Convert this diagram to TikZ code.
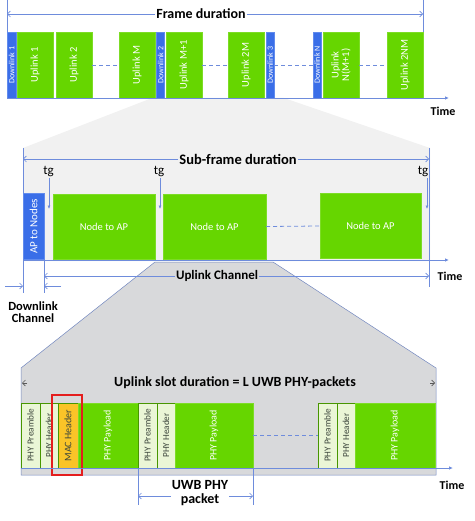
\documentclass[tikz,border=0pt]{standalone}
\usepackage{fontspec}
\setmainfont{Carlito}
\usetikzlibrary{arrows.meta}
\definecolor{grn}{RGB}{102,214,0}
\definecolor{lgrn}{RGB}{234,246,214}
\definecolor{blu}{RGB}{58,110,232}
\definecolor{lnc}{RGB}{110,140,220}
\definecolor{lgray}{RGB}{241,241,241}
\definecolor{dgray}{RGB}{216,217,219}
\definecolor{macc}{RGB}{250,196,40}
\definecolor{redb}{RGB}{228,30,30}
\definecolor{dtxt}{RGB}{60,70,60}
\newcommand\fs[1]{\fontsize{#1}{#1}\selectfont}
\tikzset{
  blk/.style={rotate=90, inner sep=0pt, align=center, text=white, font=\fs{10.5}},
  gblk/.style={blk, fill=grn, draw=grn!85!white},
  hblk/.style={inner sep=0pt, align=center, text=white, font=\fs{10.5}, fill=grn, draw=grn!85!white},
  bblk/.style={blk, fill=blu, draw=blu!80!white},
  pblk/.style={blk, fill=lgrn, draw=grn!70!black, line width=0.4pt, text=dtxt, font=\fs{9.2}},
  mblk/.style={blk, fill=macc, draw=grn!70!black, line width=0.4pt, text=dtxt, font=\fs{10}},
  lab/.style={font=\bfseries\fs{14}, inner sep=1pt},
  tlab/.style={font=\bfseries\fs{12}, inner sep=0pt},
  vln/.style={draw=lnc, line width=0.6pt},
  dim/.style={draw=lnc, line width=0.6pt, -{Straight Barb[length=3pt,width=6pt]}},
  axis/.style={draw=lnc, line width=0.8pt, -{Latex[length=4pt,width=3.5pt]}},
  dsh/.style={draw=lnc, line width=0.8pt, dash pattern=on 4pt off 3pt},
  tgar/.style={draw=lnc, line width=0.6pt, -{Latex[length=3.5pt,width=3pt]}}
}
\begin{document}
\begin{tikzpicture}[x=1pt,y=-1pt]
\useasboundingbox (0,0) rectangle (474,521);
% backgrounds
\fill[lgray] (152,98) -- (284,98) -- (430,148) -- (430,261) -- (23,261) -- (23,148) -- cycle;
\filldraw[fill=dgray, draw=lnc!70!gray, line width=0.5pt] (155,262) -- (273,262) -- (436,368) -- (436,475) -- (21,475) -- (21,368) -- cycle;

% ---------- top panel ----------
\coordinate (tl0) at (7,0); \coordinate (tl1) at (7,98);
\coordinate (tr0) at (423,0); \coordinate (tr1) at (423,98);
\draw[vln] (tl0) -- (tl1);
\draw[vln] (tr0) -- (tr1);
\node[lab] (fd) at (201,14) {Frame duration};
\coordinate (fdl) at (7,14); \coordinate (fdr) at (423,14);
\draw[dim] (fd.west) -- (fdl);
\draw[dim] (fd.east) -- (fdr);

\node[bblk, minimum width=66, minimum height=9, font=\fs{8}] (dl1) at (11.5,65) {Downlink 1};
\node[gblk, minimum width=66, minimum height=36] (u1) at (35,65) {Uplink 1};
\node[gblk, minimum width=66, minimum height=36] (u2) at (74,65) {Uplink 2};
\node[gblk, minimum width=66, minimum height=36] (uM) at (137,65) {Uplink M};
\node[bblk, minimum width=66, minimum height=8, font=\fs{8}] (dl2) at (160.5,65) {Downlink 2};
\node[gblk, minimum width=66, minimum height=36] (uM1) at (184,65) {Uplink M+1};
\node[gblk, minimum width=66, minimum height=36] (u2M) at (246,65) {Uplink 2M};
\node[bblk, minimum width=66, minimum height=8, font=\fs{8}] (dl3) at (270,65) {Downlink 3};
\node[bblk, minimum width=66, minimum height=8, font=\fs{8}] (dlN) at (317,65) {Downlink N};
\node[gblk, minimum width=66, minimum height=36] (uN) at (341,65) {Uplink\\N(M+1)};
\node[gblk, minimum width=66, minimum height=36] (u2NM) at (405,65) {Uplink 2NM};
\draw[dsh] (u2.south) -- (uM.north);
\draw[dsh] (uM1.south) -- (u2M.north);
\draw[dsh] (dl3.south) -- (dlN.north);
\draw[dsh] (uN.south) -- (u2NM.north);
\coordinate (ta0) at (7,98); \coordinate (ta1) at (449,98);
\draw[axis] (ta0) -- (ta1);
\node[tlab] (time1) at (443,111) {Time};

% ---------- middle panel ----------
\coordinate (ml0) at (23,148); \coordinate (ml1) at (23,293);
\coordinate (mr0) at (429,148); \coordinate (mr1) at (429,287);
\coordinate (mc0) at (44,259); \coordinate (mc1) at (44,293);
\draw[vln] (ml0) -- (ml1);
\draw[vln] (mr0) -- (mr1);
\draw[vln] (mc0) -- (mc1);
\node[lab, font=\bfseries\fs{14.5}] (sfd) at (238,159) {Sub-frame duration};
\coordinate (sfl) at (23,159); \coordinate (sfr) at (429,159);
\draw[dim] (sfd.west) -- (sfl);
\draw[dim] (sfd.east) -- (sfr);

\node[font=\fs{13}, inner sep=0pt] (tg1) at (48.5,172) {tg};
\node[font=\fs{13}, inner sep=0pt] (tg2) at (159,172) {tg};
\node[font=\fs{13}, inner sep=0pt] (tg3) at (423,172) {tg};
\coordinate (tga1) at (49,209); \coordinate (tga2) at (160,209); \coordinate (tga3) at (427,209);
\draw[tgar] (49,178) -- (tga1);
\draw[tgar] (160,178) -- (tga2);
\draw[tgar] (427,178) -- (tga3);

\node[bblk, minimum width=66, minimum height=21, font=\fs{11}] (ap) at (33.5,226.5) {AP to Nodes};
\node[hblk, minimum height=65, minimum width=102] (n1) at (104,226.5) {Node to AP};
\node[hblk, minimum height=65, minimum width=103] (n2) at (214.5,226.5) {Node to AP};
\node[hblk, minimum height=65, minimum width=101] (n3) at (370.5,226) {Node to AP};
\draw[dsh] (n2.east) -- (n3.west);
\coordinate (ma0) at (23,260); \coordinate (ma1) at (449,260);
\draw[axis] (ma0) -- (ma1);
\node[tlab] (time2) at (450,276) {Time};

\node[lab, font=\bfseries\fs{13}] (uc) at (217,276) {Uplink Channel};
\coordinate (ucl) at (44,276); \coordinate (ucr) at (429,276);
\draw[dim] (uc.west) -- (ucl);
\draw[dim] (uc.east) -- (ucr);

\coordinate (dca) at (5,286); \coordinate (dcb) at (23,286);
\coordinate (dcc) at (61,286); \coordinate (dcd) at (44,286);
\draw[dim] (dca) -- (dcb);
\draw[dim] (dcc) -- (dcd);
\node[lab, font=\bfseries\fs{12.5}, align=center] (dc) at (33,312) {Downlink\\Channel};

% ---------- bottom panel ----------
\node[lab] (usd) at (235,383) {Uplink slot duration = L UWB PHY-packets};
\coordinate (usl) at (22,383); \coordinate (usr) at (435,383);
\draw[dim, draw=gray!70!black] (27,383) -- (usl);
\draw[dim, draw=gray!70!black] (430,383) -- (usr);

\node[pblk, minimum width=65, minimum height=19] (pre1) at (30.5,435.5) {PHY Preamble};
\node[pblk, minimum width=65, minimum height=18] (hdr1) at (49,435.5) {PHY Header};
\node[mblk, minimum width=65, minimum height=20] (mac) at (68,435.5) {MAC Header};
\node[gblk, minimum width=65, minimum height=60, font=\fs{10}] (pay1) at (108,435.5) {PHY Payload};
\node[pblk, minimum width=65, minimum height=19] (pre2) at (147.5,435.5) {PHY Preamble};
\node[pblk, minimum width=65, minimum height=18] (hdr2) at (166,435.5) {PHY Header};
\node[gblk, minimum width=65, minimum height=78, font=\fs{10}] (pay2) at (214,435.5) {PHY Payload};
\node[pblk, minimum width=65, minimum height=19] (pre3) at (327.5,435.5) {PHY Preamble};
\node[pblk, minimum width=65, minimum height=18] (hdr3) at (346,435.5) {PHY Header};
\node[gblk, minimum width=65, minimum height=80, font=\fs{10}] (pay3) at (395,435.5) {PHY Payload};
\draw[dsh] (pay2.south) -- (pre3.north);
\draw[redb, line width=2.2pt] (52,395) rectangle (82,475);
\coordinate (ba0) at (21,468); \coordinate (ba1) at (453,468);
\draw[axis] (ba0) -- (ba1);
\node[tlab] (time3) at (452,485) {Time};

\coordinate (pk0) at (138,468); \coordinate (pk1) at (138,505);
\coordinate (pk2) at (253,468); \coordinate (pk3) at (253,505);
\draw[vln] (pk0) -- (pk1);
\draw[vln] (pk2) -- (pk3);
\node[lab, align=center, font=\bfseries\fs{14}] (uwb) at (200,493.5) {UWB PHY\\packet};
\coordinate (pkl) at (138,496); \coordinate (pkr) at (253,496);
\draw[dim] (uwb.west|-pkl) -- (pkl);
\draw[dim] (uwb.east|-pkr) -- (pkr);
\end{tikzpicture}
\end{document}
